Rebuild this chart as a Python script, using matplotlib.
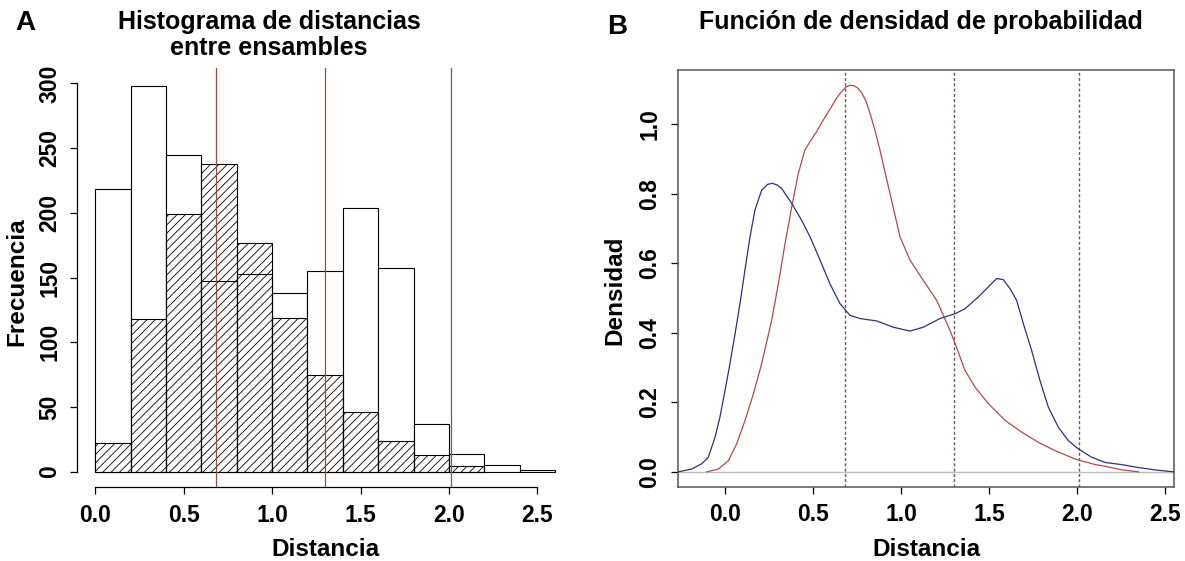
import matplotlib
matplotlib.use("Agg")
import matplotlib.pyplot as plt
from matplotlib.ticker import FormatStrFormatter

plt.rcParams["font.family"] = ["Liberation Sans", "DejaVu Sans"]
plt.rcParams["font.weight"] = "bold"
plt.rcParams["hatch.linewidth"] = 0.6

# --- Histogram data (bins of width 0.2) ---
bin_edges = [0.0, 0.2, 0.4, 0.6, 0.8, 1.0, 1.2, 1.4, 1.6, 1.8, 2.0, 2.2, 2.4, 2.6]
counts_total = [218, 298, 245, 147, 153, 138, 155, 204, 157, 37, 14, 5, 1]
counts_hatched = [22, 118, 199, 238, 177, 119, 75, 46, 24, 13, 4, 0, 0]

# reference cut points (drawn in both panels)
cut_points = [0.68, 1.30, 2.01]

# --- Density curves ---
blue_x = [-0.268, -0.191, -0.135, -0.097, -0.059, -0.031, -0.002, 0.026, 0.055, 0.083,
          0.111, 0.140, 0.168, 0.206, 0.240, 0.267, 0.295, 0.320, 0.377, 0.433, 0.481,
          0.538, 0.594, 0.651, 0.708, 0.765, 0.860, 0.954, 1.049, 1.124, 1.219, 1.305,
          1.361, 1.437, 1.494, 1.541, 1.579, 1.617, 1.655, 1.693, 1.740, 1.787, 1.835,
          1.892, 1.948, 2.005, 2.081, 2.157, 2.249, 2.350, 2.450, 2.547]
blue_y = [0.000, 0.008, 0.023, 0.042, 0.099, 0.157, 0.234, 0.311, 0.397, 0.484,
          0.580, 0.676, 0.753, 0.810, 0.827, 0.830, 0.825, 0.815, 0.772, 0.724, 0.676,
          0.609, 0.541, 0.484, 0.450, 0.441, 0.434, 0.416, 0.405, 0.416, 0.441, 0.455,
          0.469, 0.503, 0.532, 0.556, 0.553, 0.527, 0.493, 0.426, 0.349, 0.263, 0.186,
          0.128, 0.090, 0.066, 0.042, 0.027, 0.021, 0.012, 0.005, 0.000]

red_x = [-0.106, -0.040, 0.017, 0.064, 0.111, 0.159, 0.206, 0.263, 0.301, 0.339,
         0.377, 0.414, 0.452, 0.481, 0.520, 0.556, 0.600, 0.632, 0.660, 0.685, 0.708,
         0.730, 0.752, 0.775, 0.800, 0.822, 0.850, 0.878, 0.935, 0.992, 1.049, 1.124,
         1.201, 1.276, 1.305, 1.361, 1.418, 1.494, 1.589, 1.684, 1.778, 1.873, 1.986,
         2.100, 2.157, 2.250, 2.347]
red_y = [0.000, 0.008, 0.032, 0.080, 0.147, 0.224, 0.311, 0.436, 0.541, 0.657,
         0.762, 0.858, 0.926, 0.950, 0.980, 1.012, 1.048, 1.075, 1.094, 1.107, 1.112,
         1.111, 1.104, 1.090, 1.065, 1.031, 0.982, 0.926, 0.801, 0.676, 0.609, 0.551,
         0.493, 0.407, 0.369, 0.292, 0.244, 0.196, 0.148, 0.114, 0.085, 0.061, 0.037,
         0.021, 0.016, 0.006, 0.000]

x_ticks_a = [0.0, 0.5, 1.0, 1.5, 2.0, 2.5]
y_ticks_a = [0, 50, 100, 150, 200, 250, 300]
x_ticks_b = [0.0, 0.5, 1.0, 1.5, 2.0, 2.5]
y_ticks_b = [0.0, 0.2, 0.4, 0.6, 0.8, 1.0]

W, H = 1185, 561
fig = plt.figure(figsize=(W / 100, H / 100), dpi=100)


def px_axes(left, top, right, bottom):
    return fig.add_axes([left / W, 1 - bottom / H, (right - left) / W, (bottom - top) / H])


TICK_FS = 16.5
LABEL_FS = 17.5
TITLE_FS = 18

# ================= Panel A: histogram =================
ax1 = px_axes(76.9, 67.8, 573.4, 487.2)
widths = [b - a for a, b in zip(bin_edges[:-1], bin_edges[1:])]
ax1.bar(bin_edges[:-1], counts_total, width=widths, align="edge",
        facecolor="white", edgecolor="black", linewidth=0.8, zorder=2)
hx = [x for x, c in zip(bin_edges[:-1], counts_hatched) if c > 0]
hw = [w for w, c in zip(widths, counts_hatched) if c > 0]
hc = [c for c in counts_hatched if c > 0]
ax1.bar(hx, hc, width=hw, align="edge", facecolor="none",
        edgecolor="black", hatch="////", linewidth=0.8, zorder=3)
for v in cut_points:
    ax1.axvline(v, color="#9C4A45", linewidth=0.9, zorder=4)

ax1.set_xlim(-0.104, 2.704)
ax1.set_ylim(-12, 312)
ax1.spines["top"].set_visible(False)
ax1.spines["right"].set_visible(False)
ax1.spines["left"].set_bounds(0, 300)
ax1.spines["bottom"].set_bounds(0, 2.5)
for s in ("left", "bottom"):
    ax1.spines[s].set_linewidth(0.9)
ax1.set_xticks(x_ticks_a)
ax1.set_yticks(y_ticks_a)
ax1.xaxis.set_major_formatter(FormatStrFormatter("%.1f"))
ax1.tick_params(axis="both", length=5, width=0.9, labelsize=TICK_FS)
ax1.tick_params(axis="x", pad=7)
ax1.tick_params(axis="y", pad=6)
for lab in ax1.get_yticklabels():
    lab.set_rotation(90)
    lab.set_va("center")
ax1.set_xlabel("Distancia", fontsize=LABEL_FS, fontweight="bold", labelpad=8)

fig.text(269 / W, 1 - 35 / H, "Histograma de distancias\nentre ensambles",
         ha="center", va="center", fontsize=TITLE_FS, fontweight="bold",
         linespacing=1.1)
fig.text(25 / W, 1 - 23 / H, "A", ha="center", va="center", fontsize=20,
         fontweight="bold")
fig.text(17 / W, 1 - 282 / H, "Frecuencia", ha="center", va="center",
         rotation=90, fontsize=LABEL_FS, fontweight="bold")

# ================= Panel B: density curves =================
ax2 = px_axes(678.2, 70, 1173.7, 487.3)
ax2.axhline(0, color="#BDBDBD", linewidth=1.0, zorder=1)
for v in cut_points:
    ax2.axvline(v, color="#70585E", linewidth=1.0, linestyle=(0, (2.2, 1.6)), zorder=2)
ax2.plot(red_x, red_y, color="#B04A4E", linewidth=0.9, zorder=3)
ax2.plot(blue_x, blue_y, color="#2C3470", linewidth=0.9, zorder=4)

ax2.set_xlim(-0.268, 2.547)
ax2.set_ylim(-0.0445, 1.156)
for s in ax2.spines.values():
    s.set_color("#555555")
    s.set_linewidth(1.1)
ax2.set_xticks(x_ticks_b)
ax2.set_yticks(y_ticks_b)
ax2.xaxis.set_major_formatter(FormatStrFormatter("%.1f"))
ax2.yaxis.set_major_formatter(FormatStrFormatter("%.1f"))
ax2.tick_params(axis="both", length=5, width=0.9, labelsize=TICK_FS)
ax2.tick_params(axis="x", pad=6)
ax2.tick_params(axis="y", pad=7)
for lab in ax2.get_yticklabels():
    lab.set_rotation(90)
    lab.set_va("center")
ax2.set_xlabel("Distancia", fontsize=LABEL_FS, fontweight="bold", labelpad=9)

fig.text(921 / W, 1 - 22 / H, "Función de densidad de probabilidad",
         ha="center", va="center", fontsize=TITLE_FS, fontweight="bold")
fig.text(617 / W, 1 - 27 / H, "B", ha="center", va="center", fontsize=20,
         fontweight="bold")
fig.text(615 / W, 1 - 290 / H, "Densidad", ha="center", va="center",
         rotation=90, fontsize=LABEL_FS, fontweight="bold")

fig.savefig("out.png", dpi=100, facecolor="white")
